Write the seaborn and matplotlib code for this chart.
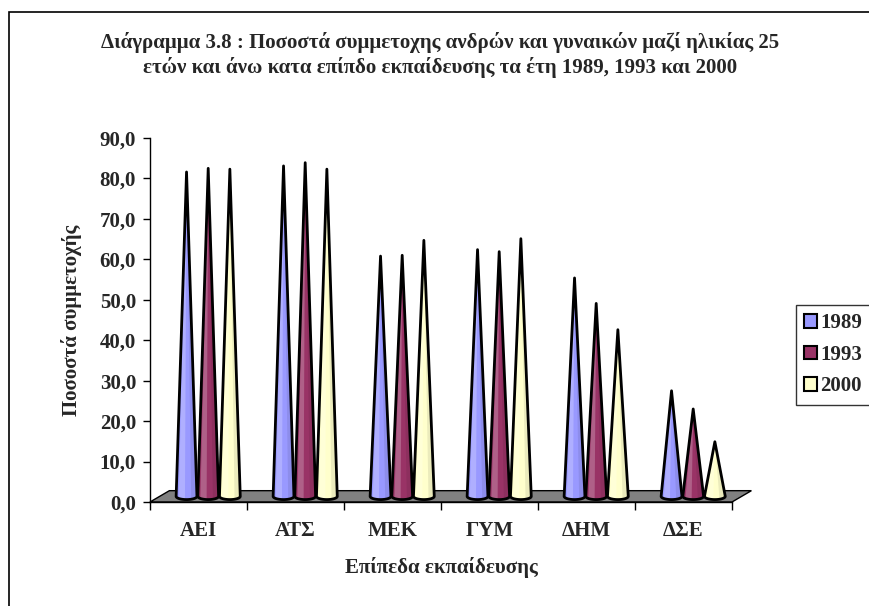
import numpy as np
import pandas as pd
import seaborn as sns
import matplotlib.pyplot as plt
from matplotlib.patches import Polygon, Patch, Rectangle
from matplotlib.ticker import FixedLocator, FuncFormatter
from matplotlib.colors import to_rgb

sns.set_style("white")
plt.rcParams["font.family"] = ["Liberation Serif", "DejaVu Serif"]
plt.rcParams["font.weight"] = "bold"

################################ data

LEVELS = ["ΑΕΙ", "ΑΤΣ", "ΜΕΚ", "ΓΥΜ", "ΔΗΜ", "ΔΣΕ"]
YEARS = ["1989", "1993", "2000"]
Y1989 = [80.2, 81.7, 59.4, 61.0, 54.0, 26.1]
Y1993 = [81.1, 82.5, 59.6, 60.5, 47.7, 21.6]
Y2000 = [80.9, 80.9, 63.3, 63.7, 41.2, 13.5]

COLORS = {"1989": "#9999FF", "1993": "#993366", "2000": "#FFFFCC"}
FLOOR_COLOR = "#808080"

TITLE = ("Διάγραμμα 3.8 : Ποσοστά συμμετοχης ανδρών και γυναικών μαζί ηλικίας 25\n"
         "ετών και άνω κατα επίπδο εκπαίδευσης τα έτη 1989, 1993 και 2000")
XLABEL = "Επίπεδα εκπαίδευσης"
YLABEL = "Ποσοστά συμμετοχής"

df = pd.DataFrame({
    "level": LEVELS * 3,
    "year": [y for y in YEARS for _ in LEVELS],
    "value": Y1989 + Y1993 + Y2000,
})

FS = 15  # excel's times bold looks big

# fake 3d: depth offset of the floor (in data units)
DEPTH_X = 0.2
DEPTH_Y = 2.8
BASE_E = 0.8  # half height of the elliptical cone base


def shade(col, f):
    r, g, b = to_rgb(col)
    if f > 0:
        return (r + (1 - r) * f, g + (1 - g) * f, b + (1 - b) * f)
    return (r * (1 + f), g * (1 + f), b * (1 + f))


################################ plotting

fig = plt.figure(figsize=(8.7, 6.06), dpi=100)
ax = fig.add_axes([150 / 870, 1 - 502 / 606, 582 / 870, 364 / 606])

sns.barplot(data=df, x="level", y="value", hue="year", order=LEVELS,
            hue_order=YEARS, palette=COLORS, width=0.67, saturation=1,
            legend=False, ax=ax)

ax.set_xlim(-0.5, 5.5)
ax.set_ylim(0, 90)

# floor
floor = Polygon([(-0.5, 0), (5.5, 0), (5.5 + DEPTH_X, DEPTH_Y), (-0.5 + DEPTH_X, DEPTH_Y)],
                closed=True, facecolor=FLOOR_COLOR, edgecolor="black", linewidth=1,
                clip_on=False, zorder=1)
ax.add_patch(floor)

# turn every bar into a cone standing in the middle of the floor depth
t = np.linspace(0, np.pi, 30)
for bar in list(ax.patches):
    if bar is floor:
        continue
    col = bar.get_facecolor()
    x0, w, h = bar.get_x(), bar.get_width(), bar.get_height()
    bar.set_visible(False)
    xc = x0 + w / 2 + DEPTH_X / 2
    yb = DEPTH_Y / 2
    r = w / 2 * 0.96
    tip = (xc, yb + h)
    arc = np.column_stack([xc + r * np.cos(t), yb - BASE_E * np.sin(t)])
    cone = np.vstack([[tip], arc])
    ax.add_patch(Polygon(cone, closed=True, facecolor=col, edgecolor="none",
                         clip_on=False, zorder=3))
    # light and dark stripes for a bit of volume
    for a, b, f in [(-0.75, -0.15, 0.22), (0.45, 0.9, -0.08)]:
        ts = np.linspace(np.arccos(a), np.arccos(b), 10)
        stripe = np.vstack([[tip], np.column_stack([xc + r * np.cos(ts), yb - BASE_E * np.sin(ts)])])
        ax.add_patch(Polygon(stripe, closed=True, facecolor=shade(col, f),
                             edgecolor="none", clip_on=False, zorder=3))
    ax.add_patch(Polygon(cone, closed=True, facecolor="none", edgecolor="black",
                         linewidth=2, joinstyle="round", clip_on=False, zorder=4))

# axes cosmetics
for side in ["top", "right"]:
    ax.spines[side].set_visible(False)
for side in ["left", "bottom"]:
    ax.spines[side].set(color="black", linewidth=1)

ax.yaxis.set_major_locator(FixedLocator(np.arange(0, 91, 10)))
ax.yaxis.set_major_formatter(FuncFormatter(lambda v, p: f"{v:.1f}".replace(".", ",")))
ax.tick_params(axis="y", which="major", left=True, direction="out", length=5,
               width=1, color="black", pad=5, labelsize=FS)

ax.xaxis.set_major_locator(FixedLocator(np.arange(-0.5, 6, 1)))
ax.xaxis.set_minor_locator(FixedLocator(np.arange(0, 6, 1)))
ax.set_xticklabels([""] * 7)
ax.set_xticklabels(LEVELS, minor=True)
ax.tick_params(axis="x", which="major", bottom=True, direction="out", length=6,
               width=1, color="black")
ax.tick_params(axis="x", which="minor", bottom=False, length=0, pad=14, labelsize=FS)

ax.set_xlabel(XLABEL, fontsize=FS, fontweight="bold", labelpad=11)
ax.set_ylabel(YLABEL, fontsize=FS, fontweight="bold", labelpad=13)

fig.text(440 / 870, 1 - 55 / 606, TITLE, ha="center", va="center",
         fontsize=FS, fontweight="bold", linespacing=1.3)

# legend
handles = [Patch(facecolor=COLORS[y], edgecolor="black", linewidth=1.5, label=y) for y in YEARS]
leg = fig.legend(handles=handles, loc="upper left", bbox_to_anchor=(796 / 870, 1 - 305 / 606),
                 frameon=True, fancybox=False, prop={"size": FS, "weight": "bold"},
                 handlelength=0.6, handleheight=0.6, handletextpad=0.15,
                 labelspacing=0.55, borderpad=0.4, borderaxespad=0)
leg.get_frame().set(edgecolor="black", linewidth=1)

# chart area border
fig.add_artist(Rectangle((9 / 870, -0.2), 1.2, 1.2 - 12 / 606,
                         transform=fig.transFigure, fill=False,
                         edgecolor="black", linewidth=1.2))

fig.savefig("out.png", dpi=100)
